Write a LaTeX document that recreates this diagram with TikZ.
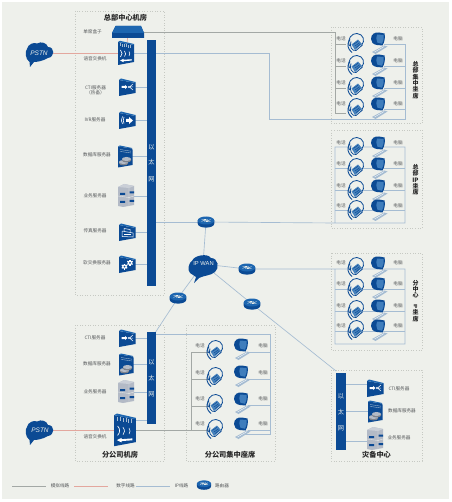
\documentclass[tikz,border=0pt]{standalone}
\usepackage{fontspec}
\setmainfont{Noto Sans CJK SC}
\newfontfamily\latinsans{Liberation Sans}
\usetikzlibrary{calc}
\definecolor{bgc}{HTML}{EEF0EB}
\definecolor{navy}{HTML}{0B4A94}
\definecolor{midb}{HTML}{1D66B0}
\definecolor{grayl}{HTML}{A3A8A5}
\definecolor{redl}{HTML}{E3A79E}
\definecolor{bluel}{HTML}{A5BCD2}
\definecolor{dots}{HTML}{C6C9C3}
\definecolor{txt}{HTML}{55585A}
\definecolor{silver}{HTML}{B3BAC6}
\tikzset{
  lab/.style={font=\fontsize{4.6}{5}\selectfont,text=txt,inner sep=0pt},
  ttl/.style={font=\bfseries\fontsize{7.2}{8}\selectfont,text=black!85,inner sep=0pt},
  vttl/.style={font=\bfseries\fontsize{6}{6.3}\selectfont,text=black!85,inner sep=0pt,align=center},
  zone/.style={draw=dots,dotted,line width=.6pt},
  bar/.style={fill=navy,inner sep=0pt,minimum width=9.5pt},
  bartext/.style={text=bgc,font=\fontsize{6.2}{6.5}\selectfont,inner sep=0pt},
  analog/.style={draw=grayl,line width=.65pt},
  digital/.style={draw=redl,line width=.65pt},
  ipl/.style={draw=bluel,line width=.65pt},
  pics/telephone/.style={code={
    \fill[bgc] (1,-2) circle (7.5);
    \draw[navy,line width=.8pt] (-5.5,3) .. controls (-8.5,-4) and (-3,-10) .. (2,-9.5) .. controls (8.5,-9) and (10.5,-2) .. (6.5,2.5);
    \fill[midb!80!bgc] (-3.5,1.5) -- (3,-3.5) -- (7,1) -- (0,7) -- cycle;
    \draw[navy,line width=.45pt] (-1.5,1.4) -- (3,-1.8) (0,3) -- (4.6,-.2) (1,4.6) -- (5.3,1.2);
    \draw[navy,line width=.9pt] (-5,-3.5) .. controls (-8.5,1) and (-7.5,6) .. (-3,9.5);
    \draw[navy,line width=.75pt] (-4,-1.5) .. controls (-6,3) and (-3,8.5) .. (1,7.5) -- (7.5,2);
  }},
  pics/computer/.style={code={
    \fill[bluel] (-6,9) -- (6,2.5) -- (9.5,3.5) -- (-2.5,11) -- cycle;
    \draw[white,line width=.35pt] (-3.5,9) -- (6,3.6);
    \fill[navy] (-7,-4) .. controls (-7,-9) and (-3,-11) .. (1,-10.5) -- (6.5,-9.5) .. controls (7.5,-6) and (6.5,-.5) .. (4.5,2.5) -- (-1,2) .. controls (-5,1.5) and (-7,-1) .. (-7,-4) -- cycle;
    \fill[midb!85!white] (-1,-8.5) -- (5.5,-8) .. controls (6,-5) and (5.5,-2) .. (4,.8) -- (-.5,-.3) .. controls (-2,-3) and (-2,-6) .. (-1,-8.5) -- cycle;
  }},
  pics/box/.style={code={
    \fill[navy] (-8,-7) -- (8.5,-4) -- (8.5,6) -- (-8,9) -- cycle;
    \fill[midb] (-8,-7) -- (-6,-8.5) -- (8.5,-5) -- (8.5,-4) -- cycle;
  }},
  pics/ctiicon/.style={code={
    \pic {box};
    \fill[white] (-5.5,-1) -- (-2,-1) -- (-2,-2.2) -- (.3,0) -- (-2,2.2) -- (-2,1) -- (-5.5,1) -- cycle;
    \fill[white] (2,0) circle (1.2);
    \draw[white,line width=.5pt] (3,-.5) -- (6,-3) (3,.5) -- (6,3) (3,0) -- (6,0);
  }},
  pics/ivricon/.style={code={
    \pic {box};
    \draw[white,line width=.6pt] (-4.5,-3.5) .. controls (-6,-1) and (-6,2) .. (-4.5,4) (-3,-3) .. controls (-4,-1) and (-4,2) .. (-3,3.5);
    \fill[white] (-1,-1) -- (2,-1) -- (2,-3) -- (6,.5) -- (2,4) -- (2,2) -- (-1,2) -- cycle;
  }},
  pics/faxicon/.style={code={
    \pic {box};
    \draw[white,line width=.5pt] (-5,-1) -- (-5,4.5) -- (6,5) -- (6,1) -- (-5,-1) (-3,-1) -- (-3,-3.5) -- (3,-2.5) -- (3,.5);
    \fill[white] (-3,2.4) rectangle (3.5,3.2);
  }},
  pics/softicon/.style={code={
    \pic {box};
    \foreach \c/\r in {-2.5/2.6,3/-1.2}{
      \begin{scope}[shift={(\c,\r)}]
      \fill[white] (0,0) circle (2.3);
      \foreach \a in {0,60,...,300}{\fill[white,rotate=\a] (-.6,1.8) rectangle (.6,3.1);}
      \fill[navy] (0,0) circle (1);
      \end{scope}
    }
  }},
  pics/dbicon/.style={code={
    \fill[navy] (-7,-9.5) -- (7,-7.5) -- (7.5,-6) -- (7.5,9) -- (-7,11.5) -- cycle;
    \fill[midb] (-7,-9.5) -- (-5,-10.5) -- (7,-8) -- (7,-7.5) -- cycle;
    \draw[bluel,line width=.35pt] (-5,-6.5) -- (6,-4.8) (-5,-4.6) -- (6,-3);
    \foreach \x/\y in {-1.5/6,1.5/3}{
      \fill[silver!70!black] (\x-4.5,\y) -- (\x-4.5,\y+1.5) .. controls (\x-4.5,\y+4) and (\x+4.5,\y+4) .. (\x+4.5,\y+1.5) -- (\x+4.5,\y) -- cycle;
      \fill[silver] (\x,\y) ellipse (4.5 and 2);
    }
  }},
  pics/bizicon/.style={code={
    \fill[silver] (-8,-9) -- (-2,-12) -- (8,-10) -- (8,9) -- (-3,11) -- (-8,10) -- cycle;
    \fill[silver!70!white] (-8,-9) -- (-2,-12) -- (8,-10) -- (3,-8) -- cycle;
    \draw[bgc,line width=.3pt] (-8,0) -- (3,1.5) -- (8,0) (3,-8) -- (3,11);
    \fill[navy] (-6,-3) rectangle (-1,-1) (3.5,-4.5) rectangle (8,-2.5);
    \fill[navy] (-6,5) rectangle (-1,7) (3.5,4) rectangle (8,6);
  }},
  pics/swicon/.style={code={
    \fill[navy] (-8,-11) -- (8,-8) -- (8,9) -- (-8,12) -- cycle;
    \fill[midb] (-8,-11) -- (-6,-12.2) -- (8,-9) -- (8,-8) -- cycle;
    \foreach \x in {-5.5,-3.5,...,5.5}{\draw[bluel,line width=.3pt] (\x,-8.8+\x*.15) -- (\x,-5.8+\x*.15);}
    \draw[white,line width=.7pt] (-5.5,-3) .. controls (-3.5,-1) and (-3.5,2) .. (-5.5,4);
    \draw[white,line width=.6pt] (-1.5,-2) .. controls (0,0) and (0,2) .. (-1.5,3.5);
    \draw[white,line width=.5pt] (3,-1.5) .. controls (4,0) and (4,1.5) .. (3,3);
    \fill[white] (-6,7.5) -- (-2.5,5.8) -- (-2.5,6.8) -- (5.5,6.2) -- (5.5,7.6) -- (-2.5,8.2) -- (-2.5,9.2) -- cycle;
  }},
  pics/routericon/.style={code={
    \fill[navy] (-8.3,-1.5) -- (-8.3,1.5) .. controls (-8.3,7) and (8.3,7) .. (8.3,1.5) -- (8.3,-1.5) -- cycle;
    \fill[midb] (0,-1.5) ellipse (8.3 and 4);
    \draw[bgc,line width=.35pt,->,>=stealth] (-4.5,-.5) -- (.5,-2.8);
    \draw[bgc,line width=.35pt,->,>=stealth] (4.5,-2.5) -- (-.5,-.2);
    \draw[bgc,line width=.35pt] (-4.5,-2.5) -- (-1.5,-1.7) (1.5,-1.2) -- (4.5,-.5);
  }},
  pics/pstncloud/.style={code={
    \fill[navy] (-10,14) -- (-10.5,9) .. controls (-15,6) and (-15,-2) .. (-13,-4) .. controls (-12,-9) and (-6,-11) .. (-3,-9.5) .. controls (1,-12) and (7,-10) .. (8,-6) .. controls (15,-6) and (15,4) .. (8,5) .. controls (3,8) and (-3,9) .. (-6,9) -- cycle;
  }},
}
\newcommand{\seatrows}[5]{%
  \foreach \i/\yy in {1/#2,2/#3,3/#4,4/#5}{
    \node[lab] (#1pht\i) at (341,\yy-4) {电话};
    \node[lab] (#1pct\i) at (398,\yy-4) {电脑};
  }
}
\newcommand{\seaticons}[4]{%
  \foreach \yy in {#1,#2,#3,#4}{
    \pic at (355,\yy) {telephone};
    \pic at (378,\yy) {computer};
  }
}
\begin{document}
\begin{tikzpicture}[x=1pt,y=-1pt]
\useasboundingbox (0,0) rectangle (451,502);
\fill[white] (0,0) rectangle (451,502);
\fill[bgc] (2,2) rectangle (449,499);

% zones
\draw[zone] (75,11) rectangle (164,295);
\draw[zone] (75,325) rectangle (164,461);
\draw[zone] (186,325) rectangle (275,461);
\draw[zone] (331,27) rectangle (422,123);
\draw[zone] (331,130) rectangle (422,228);
\draw[zone] (331,253) rectangle (422,350);
\draw[zone] (331,370) rectangle (422,461);

% anchors
\coordinate (bar1) at (151.5,163);
\coordinate (bar2) at (151.5,378);
\coordinate (bar3) at (341,411.5);
\coordinate (boxd) at (128,32);
\coordinate (sw1) at (126,53);
\coordinate (cti1) at (127,87);
\coordinate (ivr) at (127,120);
\coordinate (db1) at (125,156);
\coordinate (biz1) at (126,196);
\coordinate (fax) at (127,232);
\coordinate (soft) at (127,264);
\coordinate (cti2) at (127,338);
\coordinate (db2) at (126,364);
\coordinate (biz2) at (126,392);
\coordinate (sw2) at (125,430);
\coordinate (cti3) at (375,388);
\coordinate (db3) at (375,411);
\coordinate (biz3) at (375,439);
\coordinate (r1) at (206,222);
\coordinate (r2) at (247,269);
\coordinate (r3) at (252,304);
\coordinate (r4) at (178,298);
\coordinate (wan) at (203,264);
\coordinate (pstn1) at (40,53);
\coordinate (pstn2) at (40,431);
\coordinate (c3) at (336,371);
\coordinate (c4) at (155,333);

% connectors
\draw[digital] (pstn1) -- (sw1);
\draw[digital] (pstn2 |- sw2) -- (sw2);
\draw[digital] (boxd |- 0,34) -- (sw1);
\draw[analog] (boxd) -- (335,32) -- (335,113);
\foreach \yy in {44,66,88,113}{\draw[analog] (335,\yy) -- (346,\yy);}
\draw[ipl] (sw1) -- (269.5,53) -- (269.5,119) -- (405,119) -- (405,44);
\foreach \yy in {44,66,88,109}{\draw[ipl] (405,\yy) -- (384,\yy);}
\foreach \n in {cti1,ivr,db1,biz1,fax,soft}{\draw[ipl] (\n) -- (\n -| bar1);}
\draw[ipl] (bar1 |- r1) -- (r1);
\draw[ipl] (r1) -- (335,223) -- (335,147) -- (405,147) -- (405,223) -- (335,223);
\foreach \yy in {168,190,210}{\draw[ipl] (335,\yy) -- (405,\yy);}
\draw[ipl] (r1) -- (wan);
\draw[ipl] (wan) -- (r2) -- (335,269) -- (405,269) -- (405,344) -- (335,344) -- (335,269);
\foreach \yy in {289,311,331}{\draw[ipl] (335,\yy) -- (405,\yy);}
\draw[ipl] (wan) -- (r3) -- (c3);
\draw[ipl] (wan) -- (r4) -- (c4);
\foreach \n in {cti2,db2,biz2}{\draw[ipl] (\n) -- (\n -| bar2);}
\draw[ipl] (bar2 |- 0,420) -- (125,420);
\draw[ipl] (bar2 |- 0,334) -- (270,334) -- (270,434) -- (245,434);
\foreach \yy in {352,379,405,430}{\draw[ipl] (270,\yy) -- (248,\yy);}
\draw[analog] (sw2) -- (214,430);
\draw[analog] (191,352) -- (191,430);
\foreach \yy in {352,379,406}{\draw[analog] (191,\yy) -- (208,\yy);}
\foreach \n/\yy in {cti3/384,db3/411,biz3/441}{\draw[ipl] (bar3 |- 0,\yy) -- (\n |- 0,\yy);}

% bars
\node[bar,minimum height=246pt] (barn1) at (bar1) {};
\node[bar,minimum height=92pt] (barn2) at (bar2) {};
\node[bar,minimum height=77pt] (barn3) at (bar3) {};

% HQ icons
\fill[navy] (112,33) -- (115.5,26) -- (141,26) -- (144,33) -- (144,38) -- (112,38) -- cycle;
\fill[midb] (112,33) -- (115.5,26) -- (141,26) -- (144,33) -- cycle;
\pic at (sw1) {swicon};
\pic at (cti1) {ctiicon};
\pic at (ivr) {ivricon};
\pic at (db1) {dbicon};
\pic at (biz1) {bizicon};
\pic at (fax) {faxicon};
\pic at (soft) {softicon};
\pic at (cti2) {ctiicon};
\pic at (db2) {dbicon};
\pic at (biz2) {bizicon};
\pic[scale=1.35] at (sw2) {swicon};
\pic at (cti3) {ctiicon};
\pic at (db3) {dbicon};
\pic at (biz3) {bizicon};
% seats
\seaticons{43}{65}{87}{108}
\seaticons{147}{168}{190}{210}
\seaticons{267}{288}{310}{330}
\seatrows{a}{43}{65}{87}{108}
\seatrows{b}{147}{168}{190}{210}
\seatrows{c}{267}{288}{310}{330}
\foreach \yy in {349,376,403,428}{
  \pic at (214,\yy+1) {telephone};
  \pic at (241,\yy) {computer};
}
% routers
\foreach \n in {r1,r2,r3,r4}{\pic at (\n) {routericon};}
% clouds
\pic at (pstn1) {pstncloud};
\pic at (pstn2) {pstncloud};
\fill[navy] (194,283) -- (196,277) -- (190,273) .. controls (187,270) and (189,262) .. (192,261) .. controls (194,255) and (208,253) .. (211,258) .. controls (218,258) and (220,268) .. (215,272) .. controls (210,276) and (205,275) .. (199,278) -- cycle;
\node[font=\latinsans\itshape\fontsize{6.5}{7}\selectfont,text=bgc,inner sep=0pt] (pstnt1) at (39,53) {PSTN};
\node[font=\latinsans\itshape\fontsize{6.5}{7}\selectfont,text=bgc,inner sep=0pt] (pstnt2) at (40,430) {PSTN};
\node[font=\latinsans\fontsize{5.8}{6}\selectfont,text=bgc,inner sep=0pt] (want) at (203.5,264) {IP WAN};

% bar text
\foreach \y/\t in {147/以,162/太,179/网}{\node[bartext] at (151.5,\y) {\t};}
\foreach \y/\t in {362/以,378/太,394/网}{\node[bartext] at (151.5,\y) {\t};}
\foreach \y/\t in {396/以,412/太,428/网}{\node[bartext] at (341,\y) {\t};}

% labels
\node[ttl] (t1) at (125.5,18) {总部中心机房};
\node[lab] (l1) at (92.5,32) {单席盒子};
\node[lab] (l2) at (95,59) {语音交换机};
\node[lab,align=center] (l3) at (95.5,90) {CTI服务器\\（热备）};
\node[lab] (l4) at (95,120) {IVR服务器};
\node[lab] (l5) at (97,155) {数据库服务器};
\node[lab] (l6) at (95,196) {业务服务器};
\node[lab] (l7) at (95,231) {传真服务器};
\node[lab] (l8) at (97,263) {软交换服务器};
\node[lab] (l9) at (95,338) {CTI服务器};
\node[lab] (l10) at (97,364) {数据库服务器};
\node[lab] (l11) at (95,392) {业务服务器};
\node[lab] (l12) at (95,437) {语音交换机};
\node[ttl] (t2) at (120,455) {分公司机房};
\node[ttl] (t3) at (230,455) {分公司集中座席};
\node[ttl] (t4) at (376.5,455) {灾备中心};
\node[lab] (l13) at (399,389) {CTI服务器};
\node[lab] (l14) at (402,411) {数据库服务器};
\node[lab] (l15) at (399,438) {业务服务器};
\foreach \yy in {346,373,399,424}{
  \node[lab] at (200,\yy) {电话};
  \node[lab] at (263,\yy) {电脑};
}
\node[vttl] (v1) at (415.5,80) {总\\部\\集\\中\\坐\\席};
\node[vttl] (v2) at (415.5,180) {总\\部\\IP\\坐\\席};
\node[vttl] (v3) at (415.5,301) {分\\中\\心\\{\fontsize{4.5}{4.5}\selectfont\rotatebox{-90}{IP}}\\坐\\席};

% legend
\coordinate (lg1a) at (12,486); \coordinate (lg1b) at (46,486);
\coordinate (lg2a) at (74,486); \coordinate (lg2b) at (108,486);
\coordinate (lg3a) at (136,486); \coordinate (lg3b) at (170,486);
\draw[analog] (lg1a) -- (lg1b);
\draw[digital] (lg2a) -- (lg2b);
\draw[ipl] (lg3a) -- (lg3b);
\node[lab] (k1) at (60,486) {模拟线路};
\node[lab] (k2) at (125.5,486) {数字线路};
\node[lab] (k3) at (181.5,486) {IP线路};
\pic[scale=.85] at (204,485) {routericon};
\node[lab] (k4) at (222,486) {路由器};
\end{tikzpicture}
\end{document}
